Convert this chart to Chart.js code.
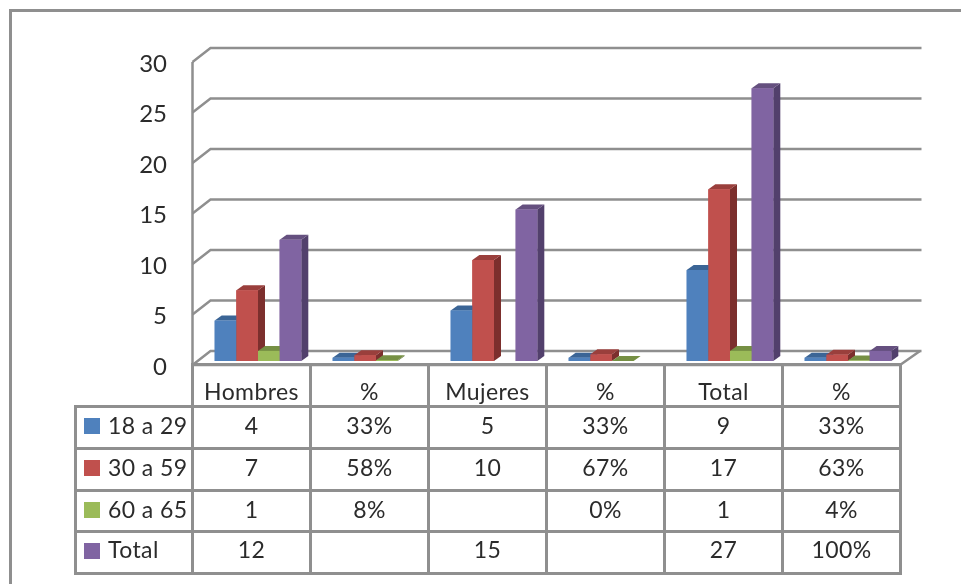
<!DOCTYPE html>
<html>
<head>
<meta charset="utf-8">
<script src="https://cdn.jsdelivr.net/npm/chart.js@4/dist/chart.umd.min.js"></script>
<style>
html, body { margin: 0; padding: 0; background: #fff; overflow: hidden; }
#wrap { position: relative; width: 961px; height: 584px; filter: blur(0.4px); }
#chart { position: absolute; left: 0; top: 0; }
#frame { position: absolute; left: 9px; top: 9px; width: 980px; height: 600px; border: 3px solid #8f8f8f; }
#dataTable { position: absolute; left: 74px; top: 363px; border-collapse: collapse; table-layout: fixed;
  font-family: Lato, sans-serif; font-size: 23px; letter-spacing: 0.4px; color: #2b2b2b; }
#dataTable td { border: 3px solid #8f8f8f; padding: 0 0 5px 0; text-align: center; box-sizing: border-box; white-space: nowrap; overflow: hidden; }
#dataTable td.blank { border-top: none; border-left: none; }
#dataTable tr.header td { padding: 11px 0 0 0; }
#dataTable tr.last td { padding-bottom: 8px; }
#dataTable td.head { text-align: left; padding-left: 31px; position: relative; }
#dataTable .key { position: absolute; left: 7px; top: 10px; width: 16px; height: 16px; }
</style>
</head>
<body>
<div id="wrap">
  <div id="frame"></div>
  <canvas id="chart" width="961" height="584"></canvas>
  <table id="dataTable"></table>
</div>
<script>
const categories = ["Hombres", "%", "Mujeres", "%", "Total", "%"];
const seriesNames = ["18 a 29", "30 a 59", "60 a 65", "Total"];
const joven = [4, 0.33, 5, 0.33, 9, 0.33];
const adulto = [7, 0.58, 10, 0.67, 17, 0.63];
const mayor = [1, 0.08, null, 0, 1, 0.04];
const total = [12, null, 15, null, 27, 1];
const yTicks = [0, 5, 10, 15, 20, 25, 30];

const allSeries = [joven, adulto, mayor, total];
const colors = ["#4F81BD", "#C0504D", "#9BBB59", "#8064A2"];
const topColors = ["#3B6596", "#9A3F3C", "#769044", "#65507F"];
const sideColors = ["#2F5078", "#7C2F2D", "#5E7336", "#52406C"];

// fake 3d: bars get a short depth, walls sit behind the axis plane
const barDepthX = 7, barDepthY = 5;
const wallDepthX = 18, wallDepthY = 14;
const axisDrop = 4;
const gridColor = "#8f8f8f";

const fake3d = {
    id: "fake3d",
    beforeDatasetsDraw(chart) {
        const ctx = chart.ctx, y = chart.scales.y, area = chart.chartArea;
        const left = area.left - 6.5, right = area.right - 7;
        ctx.save();
        ctx.strokeStyle = gridColor;
        ctx.lineWidth = 2.5;
        yTicks.forEach(function (t) {
            const py = y.getPixelForValue(t) + axisDrop;
            ctx.beginPath();
            ctx.moveTo(left, py);
            ctx.lineTo(left + wallDepthX, py - wallDepthY);
            ctx.lineTo(right + wallDepthX + 3.5, py - wallDepthY);
            ctx.stroke();
        });
        // floor edge and front axis
        const py0 = y.getPixelForValue(0) + axisDrop;
        const py30 = y.getPixelForValue(30) + axisDrop;
        ctx.beginPath();
        ctx.moveTo(left, py30);
        ctx.lineTo(left, py0);
        ctx.lineTo(right, py0);
        ctx.lineTo(right + wallDepthX + 2, py0 - wallDepthY);
        ctx.stroke();
        ctx.restore();
    },
    afterDatasetsDraw(chart) {
        const ctx = chart.ctx;
        ctx.save();
        categories.forEach(function (c, i) {
            allSeries.forEach(function (s, d) {
                if (s[i] === null) return;
                const bar = chart.getDatasetMeta(d).data[i];
                const x0 = bar.x - bar.width / 2, x1 = bar.x + bar.width / 2;
                ctx.fillStyle = sideColors[d];
                ctx.beginPath();
                ctx.moveTo(x1, bar.base);
                ctx.lineTo(x1 + barDepthX, bar.base - barDepthY);
                ctx.lineTo(x1 + barDepthX, bar.y - barDepthY);
                ctx.lineTo(x1, bar.y);
                ctx.fill();
                ctx.fillStyle = topColors[d];
                ctx.beginPath();
                ctx.moveTo(x0, bar.y);
                ctx.lineTo(x0 + barDepthX, bar.y - barDepthY);
                ctx.lineTo(x1 + barDepthX, bar.y - barDepthY);
                ctx.lineTo(x1, bar.y);
                ctx.fill();
                ctx.fillStyle = colors[d];
                ctx.fillRect(x0, bar.y, bar.width, bar.base - bar.y);
            });
        });
        ctx.restore();
    }
};

new Chart(document.getElementById("chart").getContext("2d"), {
    type: "bar",
    plugins: [fake3d],
    data: {
        labels: categories,
        datasets: allSeries.map(function (s, d) {
            return { label: seriesNames[d], data: s, backgroundColor: colors[d], barPercentage: 1, categoryPercentage: 0.734 };
        })
    },
    options: {
        responsive: false,
        animation: false,
        layout: { padding: { top: 58, bottom: 223, left: 0, right: 54 } },
        plugins: { legend: { display: false }, tooltip: { enabled: false } },
        scales: {
            x: { display: false },
            y: {
                min: 0,
                max: 30,
                afterFit(scale) { scale.width = 199; },
                afterBuildTicks(scale) { scale.ticks = yTicks.map(function (v) { return { value: v }; }); },
                grid: { display: false, drawTicks: false },
                border: { display: false },
                ticks: {
                    padding: 32,
                    labelOffset: axisDrop + 2,
                    color: "#2b2b2b",
                    font: { family: "Lato", size: 24 }
                }
            }
        }
    }
});

// data table under the plot
const colWidths = [117, 118, 118, 118, 118, 118, 118];
const rowHeights = [42, 42, 42, 41, 42];
const table = document.getElementById("dataTable");
function cellText(v, i) {
    if (v === null) return "";
    return i % 2 === 1 ? Math.round(v * 100) + "%" : String(v);
}
let html = "<colgroup>" + colWidths.map(function (w) { return '<col style="width:' + w + 'px">'; }).join("") + "</colgroup>";
html += '<tr class="header" style="height:' + rowHeights[0] + 'px"><td class="blank"></td>' + categories.map(function (c) { return "<td>" + c + "</td>"; }).join("") + "</tr>";
allSeries.forEach(function (s, d) {
    const cls = d === allSeries.length - 1 ? "last" : "";
    html += '<tr class="' + cls + '" style="height:' + rowHeights[d + 1] + 'px"><td class="head"><span class="key" style="background:' + colors[d] + '"></span>' + seriesNames[d] + "</td>";
    html += s.map(function (v, i) { return "<td>" + cellText(v, i) + "</td>"; }).join("") + "</tr>";
});
table.innerHTML = html;
</script>
</body>
</html>
